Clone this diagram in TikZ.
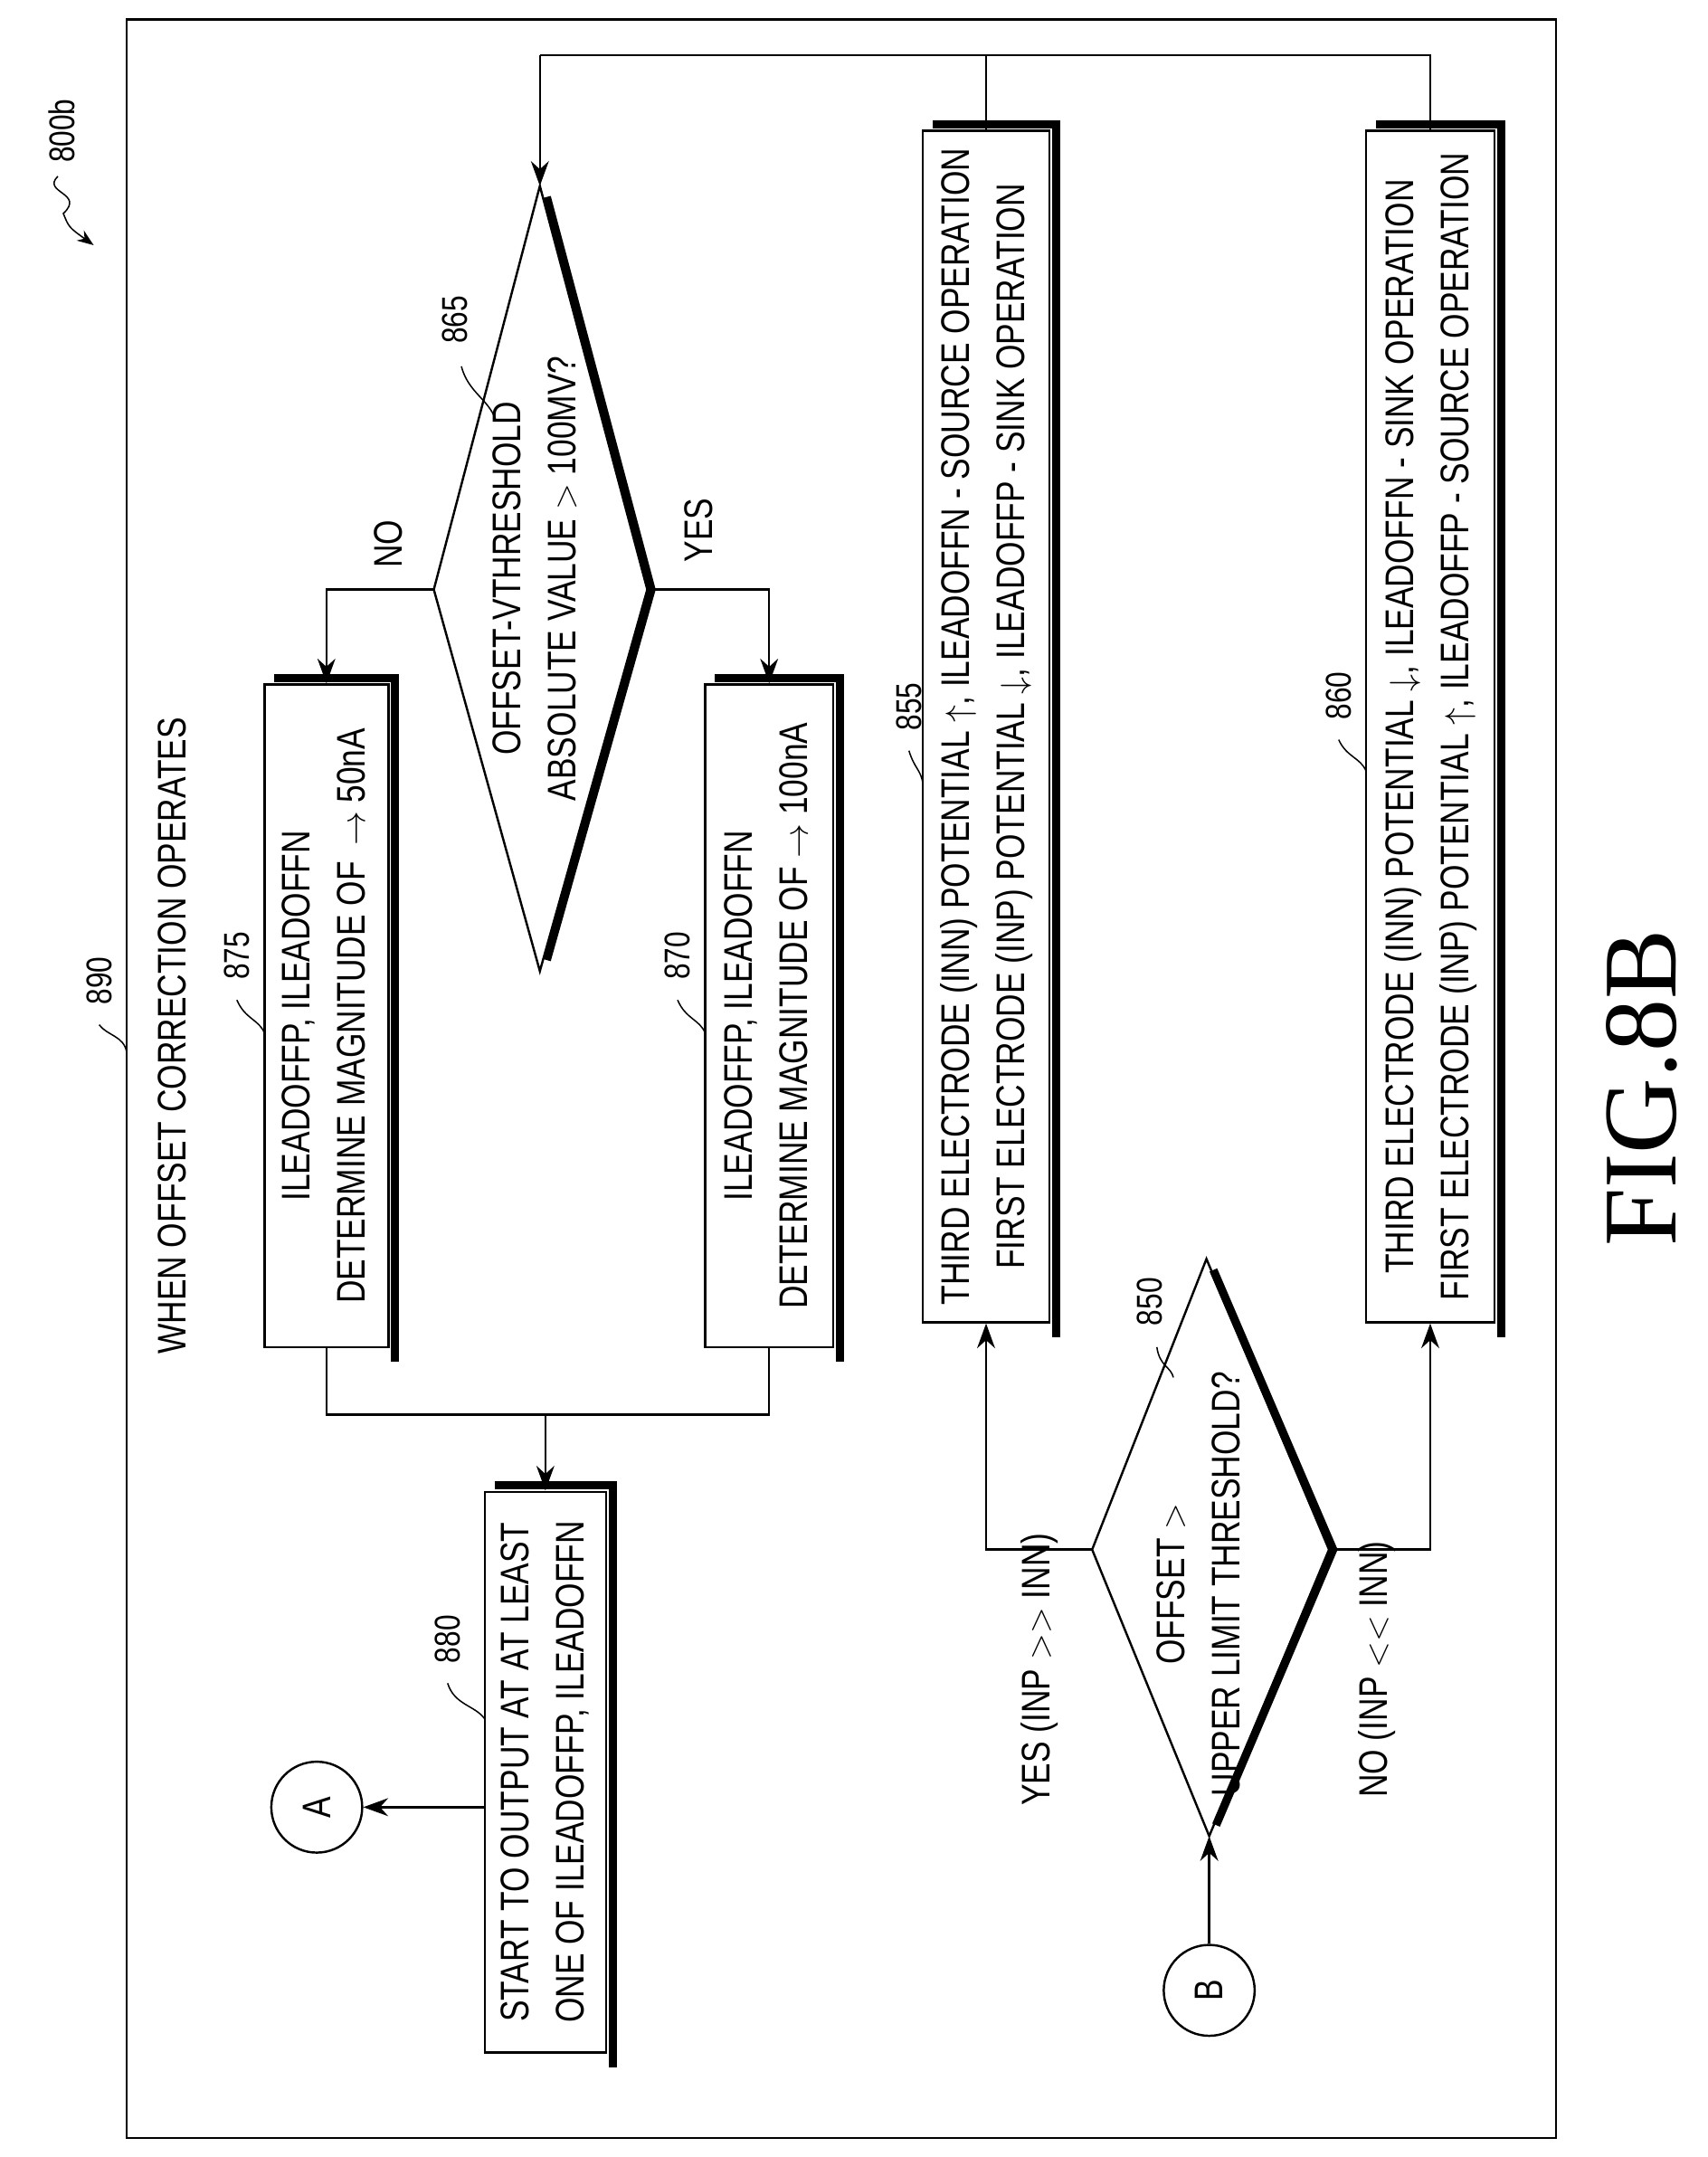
\documentclass[tikz,border=0pt]{standalone}
\usepackage{fontspec}
\setmainfont{Liberation Sans}[FakeStretch=0.8]
\newfontfamily\figfont{Liberation Serif}
\usetikzlibrary{arrows.meta}
\begin{document}
\begin{tikzpicture}[x=1pt,y=-1pt,
  line width=1.6pt,
  arr/.style={-{Stealth[length=18pt,width=13pt]}},
  box/.style={draw,rectangle,inner sep=0pt,font=\fontsize{29}{40}\selectfont},
  txt/.style={inner sep=0pt,font=\fontsize{29}{40}\selectfont},
  lbl/.style={inner sep=0pt,font=\fontsize{26}{30}\selectfont,rotate=90},
  shadow/.style={line width=6pt},
  lead/.style={line width=1pt}]
\useasboundingbox (0,0) rectangle (1240,1566);
\newcommand{\rt}[1]{\rotatebox{90}{\begin{tabular}{@{}c@{}}#1\end{tabular}}}
% frame
\draw (92,14) rectangle (1130,1552);
\node[lbl] (l800) at (45,95) {800b};
\coordinate (a800) at (68,178);
\draw[lead,-{Stealth[length=12pt,width=9pt]}] (42,128) .. controls (30,140) and (62,140) .. (46,155) .. controls (50,165) .. (a800);
\node[lbl] (l890) at (72,712) {890};
\coordinate (p890) at (92,764);
\draw[lead] (72,744) .. controls (78,752) and (90,752) .. (p890);
\node[txt,rotate=90] (title) at (125,752) {WHEN OFFSET CORRECTION OPERATES};
% boxes
\node[box,minimum width=90pt,minimum height=481pt] (b875) at (237,737.5) {\rt{ILEADOFFP, ILEADOFFN\\DETERMINE MAGNITUDE OF \,$\rightarrow$ 50nA}};
\node[box,minimum width=93pt,minimum height=481pt] (b870) at (558.5,737.5) {\rt{ILEADOFFP, ILEADOFFN\\DETERMINE MAGNITUDE OF $\rightarrow$ 100nA}};
\node[box,minimum width=88pt,minimum height=407pt] (b880) at (396,1286.5) {\rt{START TO OUTPUT AT AT LEAST\\ONE OF ILEADOFFP, ILEADOFFN}};
\node[box,minimum width=92pt,minimum height=865pt] (b855) at (716,527.5) {\rt{THIRD ELECTRODE (INN) POTENTIAL $\uparrow$, ILEADOFFN - SOURCE OPERATION\\FIRST ELECTRODE (INP) POTENTIAL $\downarrow$, ILEADOFFP - SINK OPERATION}};
\node[box,minimum width=93pt,minimum height=865pt] (b860) at (1038.5,527.5) {\rt{THIRD ELECTRODE (INN) POTENTIAL $\downarrow$, ILEADOFFN - SINK OPERATION\\FIRST ELECTRODE (INP) POTENTIAL $\uparrow$, ILEADOFFP - SOURCE OPERATION}};
\foreach \b in {b875,b870,b880,b855,b860}{
  \draw[shadow] ([xshift=8pt,yshift=4pt]\b.north west) -- ([xshift=4pt,yshift=4pt]\b.north east) -- ([xshift=4pt,yshift=-10pt]\b.south east);
}
% diamond 865
\coordinate (d1t) at (392,135); \coordinate (d1l) at (315,428);
\coordinate (d1b) at (392,705); \coordinate (d1r) at (470,428);
\draw (d1t) -- (d1l) -- (d1b) -- (d1r) -- cycle;
\draw[shadow] ([xshift=5pt,yshift=-8pt]d1t) -- ([xshift=3pt]d1r) -- ([xshift=5pt,yshift=8pt]d1b);
\node[txt] (t865) at (390,420) {\rt{OFFSET-VTHRESHOLD\\ABSOLUTE VALUE $>$ 100MV?}};
% diamond 850
\coordinate (d2t) at (876,914); \coordinate (d2l) at (793,1125);
\coordinate (d2b) at (878,1333); \coordinate (d2r) at (965,1125);
\draw (d2t) -- (d2l) -- (d2b) -- (d2r) -- cycle;
\draw[shadow] ([xshift=5pt,yshift=-8pt]d2t) -- ([xshift=3pt]d2r) -- ([xshift=5pt,yshift=8pt]d2b);
\node[txt] (t850) at (872,1150) {\rt{OFFSET $>$\\UPPER LIMIT THRESHOLD?}};
% circles
\node[draw,circle,minimum size=66pt,inner sep=0pt,txt] (cA) at (230,1312) {\rotatebox{90}{A}};
\node[draw,circle,minimum size=66pt,inner sep=0pt,txt] (cB) at (878,1445) {\rotatebox{90}{B}};
% connectors
\draw[arr] (d1l) -| (b875.north);
\draw[arr] (d1r) -| (b870.north);
\node[txt,rotate=90] (lno) at (282,395) {NO};
\node[txt,rotate=90] (lyes) at (507,385) {YES};
\coordinate (m1) at (396,1027);
\draw (b875.south) |- (m1) -| (b870.south);
\draw[arr] (m1) -- (b880.north);
\draw[arr] (b880.west |- cA) -- (cA);
\draw[arr] (cB) -- (d2b);
\draw[arr] (d2l) -| (b855.south);
\draw[arr] (d2r) -| (b860.south);
\node[txt,rotate=90] (lyes2) at (755,1212) {YES (INP $>>$ INN)};
\node[txt,rotate=90] (lno2) at (1000,1212) {NO (INP $<<$ INN)};
\coordinate (f1) at (392,40);
\draw (b855.north) |- (f1);
\draw (b860.north) |- (b855.north |- f1);
\draw[arr] (f1) -- (d1t);
% reference labels
\node[lbl] (l865) at (330,232) {865};
\draw[lead] (335,266) .. controls (340,285) and (355,290) .. (360,305);
\node[lbl] (l875) at (172,694) {875};
\draw[lead] (172,726) .. controls (178,740) and (188,740) .. (192,750);
\node[lbl] (l870) at (492,694) {870};
\draw[lead] (492,726) .. controls (498,740) and (508,740) .. (512,750);
\node[lbl] (l880) at (325,1190) {880};
\draw[lead] (325,1222) .. controls (330,1238) and (345,1238) .. (352,1248);
\node[lbl] (l855) at (660,513) {855};
\draw[lead] (660,545) .. controls (664,558) and (668,558) .. (670,568);
\node[lbl] (l860) at (972,505) {860};
\draw[lead] (972,537) .. controls (978,550) and (988,550) .. (992,560);
\node[lbl] (l850) at (835,945) {850};
\draw[lead] (840,978) .. controls (842,992) and (850,992) .. (852,1000);
\node[inner sep=0pt,rotate=90,font=\figfont\fontsize{76}{86}\selectfont] (fig) at (1192,790) {FIG.8B};
\end{tikzpicture}
\end{document}
